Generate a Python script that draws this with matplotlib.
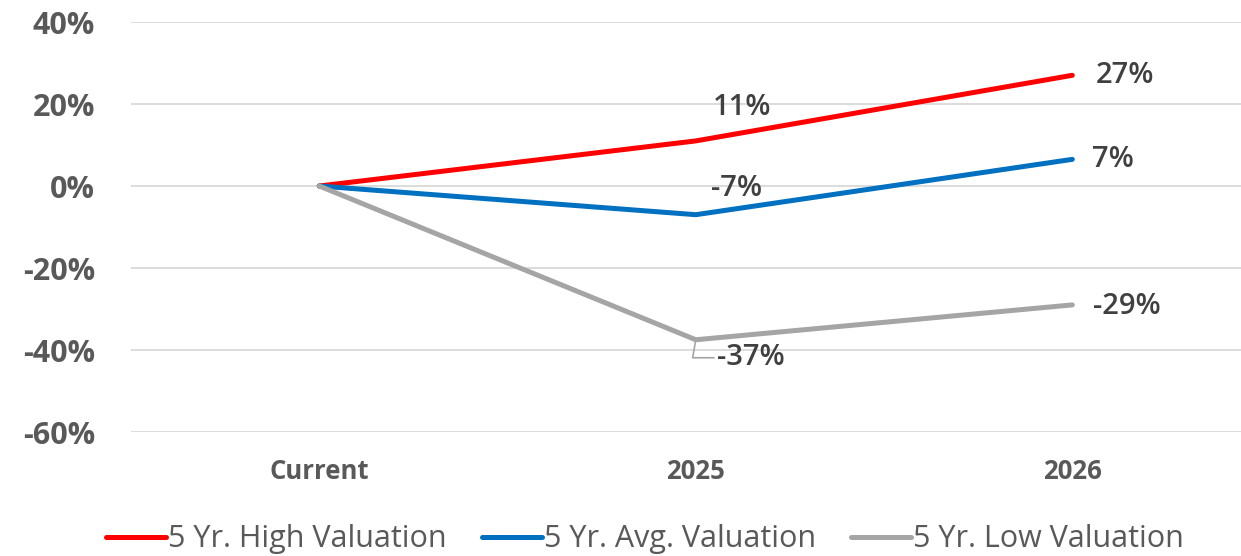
import matplotlib
matplotlib.use("Agg")
import matplotlib.pyplot as plt
from matplotlib.ticker import FuncFormatter

# chart data
categories = ["Current", "2025", "2026"]
high_vals = [0, 11, 27]
avg_vals = [0, -7, 6.5]
low_vals = [0, -37.5, -29]
series_names = ["5 Yr. High Valuation", "5 Yr. Avg. Valuation", "5 Yr. Low Valuation"]
series_colors = ["#FF0000", "#0070C0", "#A5A5A5"]
high_labels = ["", "11%", "27%"]
avg_labels = ["", "-7%", "7%"]
low_labels = ["", "-37%", "-29%"]


def pct_formatter(y, pos):
    """Format the y axis as a whole percent"""
    return f'{y:.0f}%'


def main():
    plt.rcParams['font.family'] = ['Open Sans', 'DejaVu Sans']
    fig = plt.figure(figsize=(12.41, 5.56), dpi=100)
    ax = fig.add_axes([131 / 1241, 124 / 556, 1110 / 1241, 410 / 556])

    x = list(range(len(categories)))
    series = [high_vals, avg_vals, low_vals]
    for vals, name, color in zip(series, series_names, series_colors):
        ax.plot(x, vals, color=color, lw=3.6, label=name,
                solid_capstyle='round', solid_joinstyle='round', zorder=3)

    ax.set_xlim(-0.5, 2.448)
    ax.set_ylim(-60, 40)
    ax.set_yticks([-60, -40, -20, 0, 20, 40])
    ax.yaxis.set_major_formatter(FuncFormatter(pct_formatter))
    ax.set_xticks(x)
    ax.set_xticklabels(categories)
    ax.grid(axis='y', color='#D9D9D9', lw=1.3)
    ax.set_axisbelow(True)
    for s in ax.spines.values():
        s.set_visible(False)
    ax.tick_params(axis='both', length=0)
    ax.tick_params(axis='y', pad=26, labelsize=22, labelcolor='#595959')
    ax.tick_params(axis='x', pad=19, labelsize=18.5, labelcolor='#595959')
    for t in ax.get_yticklabels() + ax.get_xticklabels():
        t.set_fontweight('bold')

    # data labels
    txt = dict(fontsize=21, fontweight='semibold', color='#404040', ha='left',
               va='center', textcoords='offset pixels')
    offsets = {
        (0, 1): (17, 33), (0, 2): (23, 0),
        (1, 1): (15, 26), (1, 2): (20, 0),
        (2, 1): (21, -18), (2, 2): (21, -2),
    }
    all_labels = [high_labels, avg_labels, low_labels]
    for si, (vals, labels) in enumerate(zip(series, all_labels)):
        for i in (1, 2):
            kw = dict(txt)
            if (si, i) == (2, 1):
                kw['arrowprops'] = dict(arrowstyle='-', color='#A5A5A5', lw=1.2,
                                        shrinkA=0, shrinkB=2,
                                        connectionstyle='angle,angleA=0,angleB=80,rad=0')
            ax.annotate(labels[i], (i, vals[i]), xytext=offsets[(si, i)], **kw)

    fig.legend(loc='center', bbox_to_anchor=(0.52, 0.03), ncol=3, frameon=False,
               fontsize=22, handlelength=1.95, handletextpad=0.08, columnspacing=1.15,
               labelcolor='#595959')

    fig.savefig("out.png", dpi=100)


if __name__ == "__main__":
    main()
